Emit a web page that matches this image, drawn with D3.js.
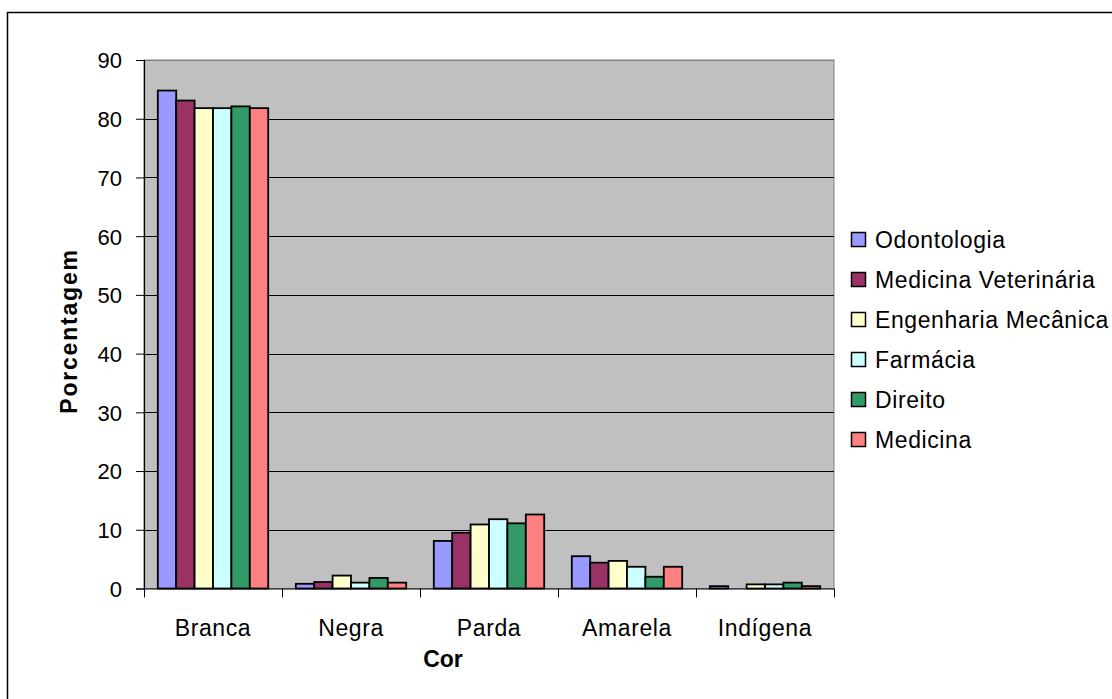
<!DOCTYPE html>
<html>
<head>
<meta charset="utf-8">
<script src="https://cdn.jsdelivr.net/npm/d3@7"></script>
<style>
  html, body { margin: 0; padding: 0; background: #fff; }
  svg { display: block; font-family: "Liberation Sans", Arial, sans-serif; }
</style>
</head>
<body>
<svg id="chart" width="1112" height="699"></svg>
<script>
// Categories (Cor) and the courses compared
const categories = ["Branca", "Negra", "Parda", "Amarela", "Indígena"];
const courses = ["Odontologia", "Medicina Veterinária", "Engenharia Mecânica", "Farmácia", "Direito", "Medicina"];
const courseColors = ["#9999ff", "#993366", "#ffffcc", "#ccffff", "#339966", "#ff8080"];

// Percentage per course, one value per category
const odontologia    = [84.8, 0.8, 8.1, 5.5, 0.4];
const medVeterinaria = [83.1, 1.1, 9.5, 4.4, 0.0];
const engMecanica    = [81.8, 2.2, 10.9, 4.7, 0.7];
const farmacia       = [81.8, 1.0, 11.8, 3.7, 0.7];
const direito        = [82.1, 1.8, 11.1, 2.0, 1.0];
const medicina       = [81.8, 1.0, 12.6, 3.7, 0.4];
const seriesValues = [odontologia, medVeterinaria, engMecanica, farmacia, direito, medicina];

const yTicks = [0, 10, 20, 30, 40, 50, 60, 70, 80, 90];

const svg = d3.select("#chart");

// outer frame
svg.append("rect")
  .attr("x", 7.5).attr("y", 12.5)
  .attr("width", 1200).attr("height", 1000)
  .attr("fill", "#fff").attr("stroke", "#000").attr("stroke-width", 1.5);

const plot = { left: 144, right: 834, top: 60, bottom: 588.5 };

const x0 = d3.scaleBand().domain(categories).range([plot.left, plot.right]).paddingInner(0).paddingOuter(0);
// gap width 150% of a bar on each group: 6 bars + 1.5 bars of gap
const groupPad = 1.5 / (courses.length + 1.5);
const x1 = d3.scaleBand().domain(courses)
  .range([x0.bandwidth() * groupPad / 2, x0.bandwidth() * (1 - groupPad / 2)])
  .padding(0);
const y = d3.scaleLinear().domain([0, 90]).range([plot.bottom, plot.top]);

// plot background
svg.append("rect")
  .attr("x", plot.left).attr("y", plot.top)
  .attr("width", plot.right - plot.left).attr("height", plot.bottom - plot.top)
  .attr("fill", "#c0c0c0").attr("stroke", "#808080").attr("stroke-width", 1);

// horizontal gridlines
svg.append("g")
  .selectAll("line")
  .data(yTicks.filter(d => d > 0))
  .join("line")
  .attr("x1", plot.left).attr("x2", plot.right)
  .attr("y1", d => Math.round(y(d)) + 0.5).attr("y2", d => Math.round(y(d)) + 0.5)
  .attr("stroke", d => d === 90 ? "#808080" : "#000").attr("stroke-width", 1);

// bars
const groups = svg.append("g")
  .selectAll("g")
  .data(categories)
  .join("g")
  .attr("transform", d => `translate(${x0(d)},0)`);

groups.selectAll("rect")
  .data((c, ci) => courses.map((s, si) => ({ s, si, v: seriesValues[si][ci] })))
  .join("rect")
  .filter(d => d.v > 0)
  .attr("x", d => x1(d.s))
  .attr("width", x1.bandwidth())
  .attr("y", d => y(d.v))
  .attr("height", d => y(0) - y(d.v))
  .attr("fill", d => courseColors[d.si])
  .attr("stroke", "#000").attr("stroke-width", 1.8);

// y axis
const yAxis = d3.axisLeft(y).tickValues(yTicks).tickSize(8).tickPadding(14).tickFormat(d3.format("d"));
const gy = svg.append("g").attr("transform", `translate(${plot.left},0)`).call(yAxis);
gy.select(".domain").attr("stroke", "#000").attr("stroke-width", 1.2);
gy.selectAll(".tick line").attr("stroke", "#000");
gy.selectAll(".tick text")
  .attr("font-family", "Liberation Sans, Arial, sans-serif")
  .attr("font-size", 22).attr("fill", "#000").attr("dy", "0.36em");

// x axis: ticks at category boundaries
const gx = svg.append("g").attr("transform", `translate(0,${plot.bottom})`);
gx.append("line")
  .attr("x1", plot.left).attr("x2", plot.right)
  .attr("y1", 0.5).attr("y2", 0.5)
  .attr("stroke", "#000").attr("stroke-width", 1.2);
const boundaries = categories.map(c => x0(c)).concat([plot.right]);
gx.selectAll("line.tick")
  .data(boundaries)
  .join("line")
  .attr("class", "tick")
  .attr("x1", d => Math.round(d) + 0.5).attr("x2", d => Math.round(d) + 0.5)
  .attr("y1", 0).attr("y2", 9)
  .attr("stroke", "#000");
gx.selectAll("text")
  .data(categories)
  .join("text")
  .attr("x", d => x0(d) + x0.bandwidth() / 2)
  .attr("y", 47)
  .attr("text-anchor", "middle")
  .attr("font-size", 23)
  .attr("letter-spacing", 0.6)
  .attr("fill", "#000")
  .text(d => d);

// axis titles
svg.append("text")
  .attr("x", 443).attr("y", 667)
  .attr("text-anchor", "middle")
  .attr("font-size", 23).attr("font-weight", "bold")
  .text("Cor");

svg.append("text")
  .attr("transform", "translate(77,331) rotate(-90)")
  .attr("text-anchor", "middle")
  .attr("font-size", 23).attr("font-weight", "bold")
  .attr("letter-spacing", 1.8)
  .text("Porcentagem");

// legend
const legend = svg.append("g").attr("transform", "translate(851,240)");
const items = legend.selectAll("g")
  .data(courses)
  .join("g")
  .attr("transform", (d, i) => `translate(0,${i * 40})`);
items.append("rect")
  .attr("x", 0.5).attr("y", -7.5)
  .attr("width", 14).attr("height", 14)
  .attr("fill", (d, i) => courseColors[i])
  .attr("stroke", "#000").attr("stroke-width", 1.5);
items.append("text")
  .attr("x", 24).attr("y", 0)
  .attr("dy", "0.36em")
  .attr("font-size", 23)
  .attr("letter-spacing", 0.6)
  .text(d => d);
</script>
</body>
</html>
